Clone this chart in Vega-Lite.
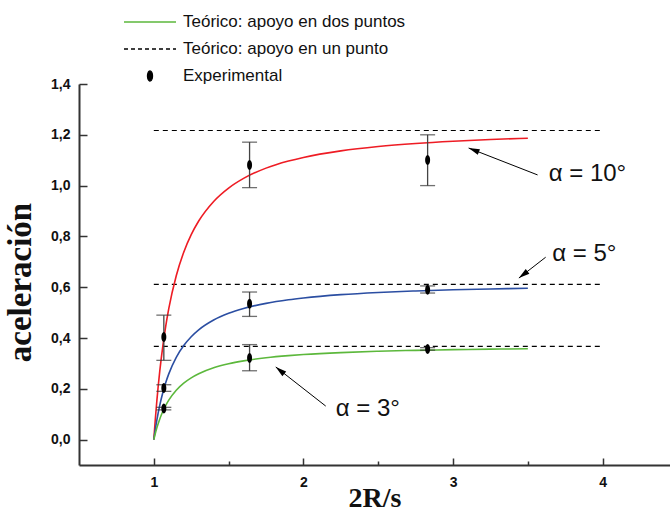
{
  "$schema": "https://vega.github.io/schema/vega-lite/v6.json",
  "width": 591,
  "height": 381,
  "autosize": {"type": "none"},
  "padding": {"left": 79, "top": 84, "right": 0, "bottom": 47},
  "background": "white",
  "config": {
    "view": {"stroke": null},
    "legend": {"symbolOpacity": 1}
  },
  "datasets": {
    "curves": [
      {"alpha": "10", "x": 1.0, "y": 0}, {"alpha": "10", "x": 1.01, "y": 0.0800}, {"alpha": "10", "x": 1.02, "y": 0.1507}, {"alpha": "10", "x": 1.04, "y": 0.2703}, {"alpha": "10", "x": 1.06, "y": 0.3674}, {"alpha": "10", "x": 1.08, "y": 0.4478}, {"alpha": "10", "x": 1.1, "y": 0.5155}, {"alpha": "10", "x": 1.15, "y": 0.6452}, {"alpha": "10", "x": 1.2, "y": 0.7377}, {"alpha": "10", "x": 1.25, "y": 0.8069}, {"alpha": "10", "x": 1.3, "y": 0.8605}, {"alpha": "10", "x": 1.4, "y": 0.9377}, {"alpha": "10", "x": 1.5, "y": 0.9904}, {"alpha": "10", "x": 1.6, "y": 1.0284}, {"alpha": "10", "x": 1.75, "y": 1.0688}, {"alpha": "10", "x": 1.9, "y": 1.0967}, {"alpha": "10", "x": 2.0, "y": 1.1110}, {"alpha": "10", "x": 2.25, "y": 1.1368}, {"alpha": "10", "x": 2.5, "y": 1.1540}, {"alpha": "10", "x": 2.75, "y": 1.1660}, {"alpha": "10", "x": 3.0, "y": 1.1748}, {"alpha": "10", "x": 3.25, "y": 1.1815}, {"alpha": "10", "x": 3.5, "y": 1.1866},
      {"alpha": "5", "x": 1.0, "y": 0}, {"alpha": "5", "x": 1.01, "y": 0.0401}, {"alpha": "5", "x": 1.02, "y": 0.0757}, {"alpha": "5", "x": 1.04, "y": 0.1357}, {"alpha": "5", "x": 1.06, "y": 0.1844}, {"alpha": "5", "x": 1.08, "y": 0.2248}, {"alpha": "5", "x": 1.1, "y": 0.2587}, {"alpha": "5", "x": 1.15, "y": 0.3238}, {"alpha": "5", "x": 1.2, "y": 0.3703}, {"alpha": "5", "x": 1.25, "y": 0.4050}, {"alpha": "5", "x": 1.3, "y": 0.4319}, {"alpha": "5", "x": 1.4, "y": 0.4706}, {"alpha": "5", "x": 1.5, "y": 0.4971}, {"alpha": "5", "x": 1.6, "y": 0.5162}, {"alpha": "5", "x": 1.75, "y": 0.5364}, {"alpha": "5", "x": 1.9, "y": 0.5505}, {"alpha": "5", "x": 2.0, "y": 0.5576}, {"alpha": "5", "x": 2.25, "y": 0.5706}, {"alpha": "5", "x": 2.5, "y": 0.5792}, {"alpha": "5", "x": 2.75, "y": 0.5852}, {"alpha": "5", "x": 3.0, "y": 0.5897}, {"alpha": "5", "x": 3.25, "y": 0.5930}, {"alpha": "5", "x": 3.5, "y": 0.5956},
      {"alpha": "3", "x": 1.0, "y": 0}, {"alpha": "3", "x": 1.01, "y": 0.0241}, {"alpha": "3", "x": 1.02, "y": 0.0454}, {"alpha": "3", "x": 1.04, "y": 0.0815}, {"alpha": "3", "x": 1.06, "y": 0.1107}, {"alpha": "3", "x": 1.08, "y": 0.1350}, {"alpha": "3", "x": 1.1, "y": 0.1553}, {"alpha": "3", "x": 1.15, "y": 0.1945}, {"alpha": "3", "x": 1.2, "y": 0.2223}, {"alpha": "3", "x": 1.25, "y": 0.2432}, {"alpha": "3", "x": 1.3, "y": 0.2593}, {"alpha": "3", "x": 1.4, "y": 0.2826}, {"alpha": "3", "x": 1.5, "y": 0.2985}, {"alpha": "3", "x": 1.6, "y": 0.3099}, {"alpha": "3", "x": 1.75, "y": 0.3221}, {"alpha": "3", "x": 1.9, "y": 0.3305}, {"alpha": "3", "x": 2.0, "y": 0.3348}, {"alpha": "3", "x": 2.25, "y": 0.3426}, {"alpha": "3", "x": 2.5, "y": 0.3478}, {"alpha": "3", "x": 2.75, "y": 0.3514}, {"alpha": "3", "x": 3.0, "y": 0.3541}, {"alpha": "3", "x": 3.25, "y": 0.3561}, {"alpha": "3", "x": 3.5, "y": 0.3576}
    ],
    "limits": [
      {"alpha": "10", "x": 1.0, "x2": 4.0, "y": 1.217},
      {"alpha": "5", "x": 1.0, "x2": 4.0, "y": 0.611},
      {"alpha": "3", "x": 1.0, "x2": 4.0, "y": 0.367}
    ],
    "exp": [
      {"alpha": "10", "x": 1.067, "y": 0.404, "lo": 0.312, "hi": 0.49},
      {"alpha": "5", "x": 1.067, "y": 0.203, "lo": 0.19, "hi": 0.216},
      {"alpha": "3", "x": 1.067, "y": 0.122, "lo": 0.117, "hi": 0.127},
      {"alpha": "10", "x": 1.64, "y": 1.081, "lo": 0.992, "hi": 1.171},
      {"alpha": "5", "x": 1.64, "y": 0.535, "lo": 0.485, "hi": 0.581},
      {"alpha": "3", "x": 1.64, "y": 0.321, "lo": 0.271, "hi": 0.374},
      {"alpha": "10", "x": 2.83, "y": 1.101, "lo": 1.0, "hi": 1.2},
      {"alpha": "5", "x": 2.83, "y": 0.59, "lo": 0.577, "hi": 0.605},
      {"alpha": "3", "x": 2.83, "y": 0.357, "lo": 0.352, "hi": 0.362}
    ],
    "labels": [
      {"alpha": "10", "x": 3.639, "y": 1.045, "text": "α = 10°"},
      {"alpha": "5", "x": 3.663, "y": 0.73, "text": "α = 5°"},
      {"alpha": "3", "x": 2.216, "y": 0.12, "text": "α = 3°"}
    ],
    "arrows": [
      {"alpha": "10", "x": 3.565, "y": 1.042, "x2": 3.104, "y2": 1.148},
      {"alpha": "5", "x": 3.619, "y": 0.718, "x2": 3.44, "y2": 0.636},
      {"alpha": "3", "x": 2.149, "y": 0.132, "x2": 1.815, "y2": 0.286}
    ],
    "legend": [
      {"leg": "Teórico: apoyo en dos puntos"},
      {"leg": "Teórico: apoyo en un punto"},
      {"leg": "Experimental"}
    ]
  },
  "layer": [
    {
      "data": {"name": "limits"},
      "mark": {"type": "rule", "color": "black", "strokeDash": [5, 4], "strokeWidth": 1.2},
      "encoding": {
        "x": {"field": "x", "type": "quantitative", "scale": {"domain": [0.5, 4.45], "nice": false, "zero": false},
          "axis": {
            "title": "2R/s",
            "values": [1, 1.5, 2, 2.5, 3, 3.5, 4],
            "tickSize": {"condition": {"test": "datum.value % 1 != 0", "value": -4}, "value": -7},
            "labelExpr": "datum.value % 1 == 0 ? format(datum.value, 'd') : ''",
            "labelFont": "Liberation Sans", "labelFontWeight": "bold", "labelFontSize": 14, "labelColor": "#111",
            "titleFont": "Liberation Serif", "titleFontWeight": "bold", "titleFontSize": 28, "titleColor": "#111",
            "titleY": 41, "titleBaseline": "alphabetic",
            "domainColor": "#333", "domainWidth": 2, "tickColor": "#333", "tickWidth": 1.5,
            "grid": false, "labelPadding": 17
          }},
        "x2": {"field": "x2"},
        "y": {"field": "y", "type": "quantitative", "scale": {"domain": [-0.1, 1.4], "nice": false, "zero": false},
          "axis": {
            "title": "aceleración",
            "values": [0, 0.1, 0.2, 0.3, 0.4, 0.5, 0.6, 0.7, 0.8, 0.9, 1.0, 1.1, 1.2, 1.3, 1.4],
            "tickSize": {"condition": {"test": "round(datum.value * 10) % 2 == 1", "value": -4}, "value": -8},
            "labelExpr": "round(datum.value * 10) % 2 == 0 ? replace(format(datum.value, '.1f'), '.', ',') : ''",
            "labelFont": "Liberation Sans", "labelFontWeight": "bold", "labelFontSize": 14, "labelColor": "#111",
            "titleFont": "Liberation Serif", "titleFontWeight": "bold", "titleFontSize": 33, "titleColor": "#111",
            "titleY": 198,
            "domainColor": "#333", "domainWidth": 2, "tickColor": "#333", "tickWidth": 1.5,
            "grid": false, "labelPadding": 17, "titlePadding": 13
          }}
      }
    },
    {
      "data": {"name": "curves"},
      "mark": {"type": "line", "strokeWidth": 1.6, "interpolate": "monotone"},
      "encoding": {
        "x": {"field": "x", "type": "quantitative"},
        "y": {"field": "y", "type": "quantitative"},
        "detail": {"field": "alpha"},
        "color": {"field": "alpha", "type": "nominal", "legend": null,
          "scale": {"domain": ["10", "5", "3"], "range": ["#ee1c24", "#2b4ea2", "#5cb83c"]}}
      }
    },
    {
      "data": {"name": "exp"},
      "mark": {"type": "rule", "color": "#444", "strokeWidth": 1.3},
      "encoding": {
        "x": {"field": "x", "type": "quantitative"},
        "y": {"field": "lo", "type": "quantitative"},
        "y2": {"field": "hi"}
      }
    },
    {
      "data": {"name": "exp"},
      "mark": {"type": "tick", "orient": "horizontal", "color": "#333", "size": 15, "thickness": 1.3},
      "encoding": {
        "x": {"field": "x", "type": "quantitative"},
        "y": {"field": "lo", "type": "quantitative"}
      }
    },
    {
      "data": {"name": "exp"},
      "mark": {"type": "tick", "orient": "horizontal", "color": "#333", "size": 15, "thickness": 1.3},
      "encoding": {
        "x": {"field": "x", "type": "quantitative"},
        "y": {"field": "hi", "type": "quantitative"}
      }
    },
    {
      "data": {"name": "exp"},
      "mark": {"type": "point", "filled": true, "color": "black", "opacity": 1,
        "shape": "M0,-1A0.5,1,0,1,1,0,1A0.5,1,0,1,1,0,-1Z", "size": 100},
      "encoding": {
        "x": {"field": "x", "type": "quantitative"},
        "y": {"field": "y", "type": "quantitative"}
      }
    },
    {
      "data": {"name": "arrows"},
      "mark": {"type": "rule", "color": "black", "strokeWidth": 1},
      "encoding": {
        "x": {"field": "x", "type": "quantitative"},
        "y": {"field": "y", "type": "quantitative"},
        "x2": {"field": "x2"},
        "y2": {"field": "y2"}
      }
    },
    {
      "data": {"name": "arrows"},
      "transform": [{"filter": "datum.alpha == '10'"}],
      "mark": {"type": "point", "filled": true, "color": "black", "opacity": 1,
        "shape": "M0,0L-0.55,2L0.55,2Z", "size": 121, "angle": 291},
      "encoding": {
        "x": {"field": "x2", "type": "quantitative"},
        "y": {"field": "y2", "type": "quantitative"}
      }
    },
    {
      "data": {"name": "arrows"},
      "transform": [{"filter": "datum.alpha == '5'"}],
      "mark": {"type": "point", "filled": true, "color": "black", "opacity": 1,
        "shape": "M0,0L-0.55,2L0.55,2Z", "size": 121, "angle": 232},
      "encoding": {
        "x": {"field": "x2", "type": "quantitative"},
        "y": {"field": "y2", "type": "quantitative"}
      }
    },
    {
      "data": {"name": "arrows"},
      "transform": [{"filter": "datum.alpha == '3'"}],
      "mark": {"type": "point", "filled": true, "color": "black", "opacity": 1,
        "shape": "M0,0L-0.55,2L0.55,2Z", "size": 121, "angle": 309},
      "encoding": {
        "x": {"field": "x2", "type": "quantitative"},
        "y": {"field": "y2", "type": "quantitative"}
      }
    },
    {
      "data": {"name": "labels"},
      "mark": {"type": "text", "font": "Liberation Sans", "fontSize": 24, "align": "left", "baseline": "middle", "color": "#111"},
      "encoding": {
        "x": {"field": "x", "type": "quantitative"},
        "y": {"field": "y", "type": "quantitative"},
        "text": {"field": "text"}
      }
    },
    {
      "data": {"name": "legend"},
      "mark": {"type": "point", "opacity": 0, "filled": false, "strokeWidth": 1.3},
      "encoding": {
        "shape": {"field": "leg", "type": "nominal",
          "scale": {"domain": ["Teórico: apoyo en dos puntos", "Teórico: apoyo en un punto", "Experimental"],
                    "range": ["M-2.6,0H2.6", "M-2.6,0L2.6,0", "M0,-0.5A0.25,0.5,0,1,1,0,0.5A0.25,0.5,0,1,1,0,-0.5Z"]},
          "legend": {
            "title": null, "orient": "none", "legendX": 60, "legendY": -73,
            "symbolSize": 400, "rowPadding": 8, "labelOffset": 22, "symbolOpacity": 1, "symbolStrokeWidth": 1.3,
            "labelFont": "Liberation Sans", "labelFontSize": 17, "labelColor": "#111", "labelLimit": 400
          }},
        "stroke": {"field": "leg", "type": "nominal",
          "scale": {"domain": ["Teórico: apoyo en dos puntos", "Teórico: apoyo en un punto", "Experimental"],
                    "range": ["#5cb83c", "black", "black"]}},
        "fill": {"field": "leg", "type": "nominal",
          "scale": {"domain": ["Teórico: apoyo en dos puntos", "Teórico: apoyo en un punto", "Experimental"],
                    "range": ["transparent", "transparent", "black"]}},
        "strokeDash": {"field": "leg", "type": "nominal",
          "scale": {"domain": ["Teórico: apoyo en dos puntos", "Teórico: apoyo en un punto", "Experimental"],
                    "range": [[1, 0], [4, 3], [1, 0]]}}
      }
    }
  ]
}
